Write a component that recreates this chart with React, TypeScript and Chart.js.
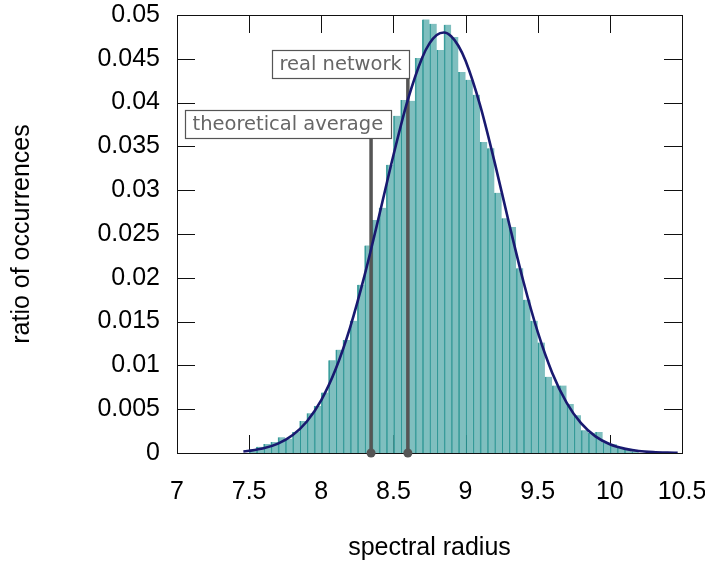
import React, { useEffect, useRef } from 'react';
import { Chart, registerables } from 'chart.js';

Chart.register(...registerables);

// Histogram bins: left edge of each bin (width 0.05) and ratio of occurrences
const binWidth = 0.05;
const binStarts = [
  7.5, 7.55, 7.6, 7.65, 7.7, 7.75, 7.8, 7.85, 7.9, 7.95,
  8.0, 8.05, 8.1, 8.15, 8.2, 8.25, 8.3, 8.35, 8.4, 8.45,
  8.5, 8.55, 8.6, 8.65, 8.7, 8.75, 8.8, 8.85, 8.9, 8.95,
  9.0, 9.05, 9.1, 9.15, 9.2, 9.25, 9.3, 9.35, 9.4, 9.45,
  9.5, 9.55, 9.6, 9.65, 9.7, 9.75, 9.8, 9.85, 9.9, 9.95,
  10.0, 10.05, 10.1, 10.15,
];
const binValues = [
  0.0004, 0.0007, 0.00103, 0.00126, 0.0018, 0.00164, 0.0024, 0.00365, 0.00453, 0.00537,
  0.0069, 0.0106, 0.0118, 0.0129, 0.0151, 0.0192, 0.0237, 0.0266, 0.028, 0.0329,
  0.0385, 0.0403, 0.0402, 0.0451, 0.0495, 0.049, 0.046, 0.0489, 0.0475, 0.0435,
  0.0426, 0.0409, 0.0355, 0.0348, 0.0297, 0.0268, 0.0258, 0.0211, 0.0175, 0.0151,
  0.0126, 0.0087, 0.0077, 0.0077, 0.0056, 0.0043, 0.0026, 0.0023, 0.0024, 0.0012,
  0.001, 0.0007, 0.0005, 0.0002,
];

// Fitted curve
const curveX = [
  7.46, 7.5, 7.6, 7.7, 7.8, 7.9, 8.0, 8.1, 8.2, 8.3, 8.4, 8.5, 8.6, 8.7, 8.75, 8.8, 8.85,
  8.9, 8.95, 9.0, 9.1, 9.2, 9.3, 9.4, 9.5, 9.6, 9.7, 9.8, 9.9, 10.0, 10.1, 10.2, 10.3, 10.4, 10.47,
];
const curveY = [
  0.00018, 0.00025, 0.00053, 0.00107, 0.00202, 0.0036, 0.00604, 0.00958, 0.01434, 0.02027,
  0.02702, 0.03399, 0.04033, 0.04516, 0.04676, 0.04772, 0.048, 0.04758, 0.04649, 0.04477,
  0.03974, 0.03329, 0.02632, 0.01963, 0.01382, 0.00917, 0.00575, 0.0034, 0.0019, 0.001,
  0.0005, 0.00023, 0.0001, 0.00004, 0.00002,
];

// Marker lines
const markerNames = ['theoretical average', 'real network'];
const markerX = [8.345, 8.6];
const markerTop = [0.036, 0.0428];
const labelRightX = [8.481, 8.61];
const labelY = [0.03756, 0.0444];

// Axes
const xTicks = [7, 7.5, 8, 8.5, 9, 9.5, 10, 10.5];
const xTickLabels = ['7', '7.5', '8', '8.5', '9', '9.5', '10', '10.5'];
const yTicks = [0, 0.005, 0.01, 0.015, 0.02, 0.025, 0.03, 0.035, 0.04, 0.045, 0.05];
const yTickLabels = ['0', '0.005', '0.01', '0.015', '0.02', '0.025', '0.03', '0.035', '0.04', '0.045', '0.05'];
const xTitle = 'spectral radius';
const yTitle = 'ratio of occurrences';

const AXIS_FONT = 'Liberation Sans';
const AXIS_SIZE = 25;
const LABEL_FONT = 'DejaVu Sans';

const frameTicksPlugin = {
  id: 'frameTicks',
  beforeDatasetsDraw(chart: any) {
    const { ctx, chartArea: a, scales } = chart;
    const tl = 18;
    ctx.save();
    ctx.strokeStyle = '#111';
    ctx.lineWidth = 1;
    ctx.beginPath();
    xTicks.forEach((v) => {
      const px = Math.round(scales.x.getPixelForValue(v)) + 0.5;
      ctx.moveTo(px, a.bottom);
      ctx.lineTo(px, a.bottom - tl);
      ctx.moveTo(px, a.top);
      ctx.lineTo(px, a.top + tl);
    });
    yTicks.forEach((v) => {
      const py = Math.round(scales.y.getPixelForValue(v)) + 0.5;
      ctx.moveTo(a.left, py);
      ctx.lineTo(a.left + tl, py);
      ctx.moveTo(a.right, py);
      ctx.lineTo(a.right - tl, py);
    });
    ctx.stroke();
    ctx.strokeRect(Math.round(a.left) + 0.5, Math.round(a.top) + 0.5, Math.round(a.right - a.left), Math.round(a.bottom - a.top));
    ctx.restore();
  },
};

const labelsPlugin = {
  id: 'markerLabels',
  afterDatasetsDraw(chart: any) {
    const { ctx, scales } = chart;
    ctx.save();
    ctx.font = `19.5px "${LABEL_FONT}"`;
    markerNames.forEach((name, i) => {
      const right = scales.x.getPixelForValue(labelRightX[i]);
      const cy = scales.y.getPixelForValue(labelY[i]);
      const padX = 7.5;
      const h = 28;
      const w = ctx.measureText(name).width + padX * 2;
      const left = right - w;
      const top = cy - h / 2;
      ctx.fillStyle = '#fff';
      ctx.fillRect(left, top, w, h);
      ctx.strokeStyle = '#555';
      ctx.lineWidth = 1.2;
      ctx.strokeRect(Math.round(left) + 0.5, Math.round(top) + 0.5, Math.round(w), Math.round(h));
      ctx.fillStyle = '#666';
      ctx.textAlign = 'right';
      ctx.textBaseline = 'middle';
      ctx.fillText(name, right - padX, cy + 1);
    });
    ctx.restore();
  },
};

export default function App() {
  const ref = useRef<HTMLCanvasElement | null>(null);

  useEffect(() => {
    if (!ref.current) return;
    const barData = binStarts.map((s, i) => ({ x: s + binWidth / 2, y: binValues[i] }));
    const curveData = curveX.map((x, i) => ({ x, y: curveY[i] }));
    const markerDatasets = markerX.map((mx, i) => ({
      type: 'line' as const,
      label: markerNames[i],
      data: [
        { x: mx, y: 0 },
        { x: mx, y: markerTop[i] },
      ],
      borderColor: '#555',
      borderWidth: 3.5,
      pointRadius: [4.5, 0],
      pointBackgroundColor: '#555',
      pointBorderWidth: 0,
      pointHoverRadius: 0,
      clip: false as any,
    }));

    const chart = new Chart(ref.current, {
      type: 'bar',
      data: {
        datasets: [
          {
            type: 'line',
            label: 'fit',
            data: curveData,
            borderColor: '#191970',
            borderWidth: 2.6,
            pointRadius: 0,
            cubicInterpolationMode: 'monotone',
            fill: false,
          } as any,
          ...markerDatasets,
          {
            type: 'bar',
            label: 'histogram',
            data: barData,
            backgroundColor: 'rgba(0,128,128,0.5)',
            borderColor: '#48a4a2',
            borderWidth: { left: 1, right: 0, top: 0, bottom: 0 },
            borderSkipped: false,
            barPercentage: 1,
            categoryPercentage: 1,
          } as any,
        ],
      },
      options: {
        responsive: false,
        animation: false,
        devicePixelRatio: 1,
        layout: { padding: { left: 0, top: 15, right: 23, bottom: 0 } },
        plugins: {
          legend: { display: false },
          tooltip: { enabled: false },
        },
        events: [],
        scales: {
          x: {
            type: 'linear',
            min: 7,
            max: 10.5,
            offset: false,
            grid: { display: false, drawTicks: false },
            border: { display: false },
            afterBuildTicks: (s: any) => {
              s.ticks = xTicks.map((v) => ({ value: v }));
            },
            afterFit: (s: any) => {
              s.height = 112;
              s.paddingLeft = 0;
              s.paddingRight = 0;
              s.paddingTop = 0;
              s.paddingBottom = 0;
            },
            ticks: {
              autoSkip: false,
              maxRotation: 0,
              padding: 24,
              color: '#000',
              font: { family: AXIS_FONT, size: AXIS_SIZE },
              callback: (_v: any, i: number) => xTickLabels[i],
            },
            title: {
              display: true,
              text: xTitle,
              color: '#000',
              font: { family: AXIS_FONT, size: AXIS_SIZE },
              padding: { top: 0, bottom: 2 },
            },
          },
          y: {
            type: 'linear',
            min: 0,
            max: 0.05,
            grid: { display: false, drawTicks: false },
            border: { display: false },
            afterBuildTicks: (s: any) => {
              s.ticks = yTicks.map((v) => ({ value: v }));
            },
            afterFit: (s: any) => {
              s.width = 177;
              s.paddingLeft = 0;
              s.paddingRight = 0;
              s.paddingTop = 0;
              s.paddingBottom = 0;
            },
            ticks: {
              autoSkip: false,
              padding: 17,
              color: '#000',
              font: { family: AXIS_FONT, size: AXIS_SIZE },
              callback: (_v: any, i: number) => yTickLabels[i],
            },
            title: {
              display: true,
              text: yTitle,
              color: '#000',
              font: { family: AXIS_FONT, size: AXIS_SIZE },
              padding: { top: 7, bottom: 0 },
            },
          },
        },
      } as any,
      plugins: [frameTicksPlugin, labelsPlugin],
    });
    return () => chart.destroy();
  }, []);

  return (
    <canvas
      ref={ref}
      width={705}
      height={565}
      style={{ position: 'fixed', left: 0, top: 0, width: 705, height: 565, background: '#fff' }}
    />
  );
}
